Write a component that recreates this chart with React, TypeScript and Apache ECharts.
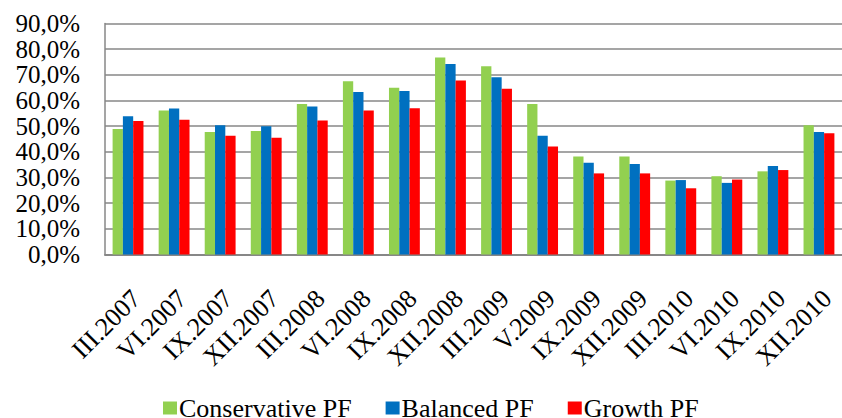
import React, { useEffect, useRef } from "react";
import * as echarts from "echarts";

const categories = [
  "III.2007", "VI.2007", "IX.2007", "XII.2007", "III.2008", "VI.2008", "IX.2008", "XII.2008",
  "III.2009", "V.2009", "IX.2009", "XII.2009", "III.2010", "VI.2010", "IX.2010", "XII.2010",
];
const conservative = [48.9, 56.1, 47.7, 48.1, 58.6, 67.5, 65.0, 76.8, 73.3, 58.6, 38.2, 38.2, 28.8, 30.5, 32.4, 50.4];
const balanced = [53.9, 56.9, 50.4, 50.0, 57.7, 63.3, 63.7, 74.2, 69.1, 46.3, 35.7, 35.3, 29.0, 27.9, 34.5, 47.7];
const growth = [52.0, 52.5, 46.3, 45.5, 52.2, 56.1, 57.0, 67.8, 64.6, 42.1, 31.6, 31.6, 25.8, 29.2, 32.9, 47.2];
const seriesNames = ["Conservative PF", "Balanced PF", "Growth PF"];
const colors = ["#92D050", "#0070C0", "#FF0000"];

const FONT = "Liberation Serif";

export default function App() {
  const ref = useRef<HTMLDivElement>(null);
  useEffect(() => {
    if (!ref.current) return;
    const chart = echarts.init(ref.current, undefined, { renderer: "svg" });
    const data = [conservative, balanced, growth];
    chart.setOption({
      animation: false,
      backgroundColor: "#ffffff",
      grid: { left: 105, right: -7, top: 23.5, bottom: 163.5, containLabel: false },
      legend: {
        left: 163,
        top: 395,
        padding: 0,
        itemWidth: 14,
        itemHeight: 13,
        itemGap: 34,
        icon: "rect",
        data: seriesNames,
        textStyle: { fontFamily: FONT, fontSize: 26, color: "#000", padding: [0, 0, 0, -3] },
      },
      xAxis: {
        type: "category",
        data: categories,
        axisLine: { show: true, lineStyle: { color: "#878787", width: 2 } },
        axisTick: { show: false },
        axisLabel: {
          interval: 0,
          rotate: 45,
          margin: 48,
          padding: [0, -11.5, 0, 0],
          fontFamily: FONT,
          fontSize: 26,
          color: "#000",
        },
      },
      yAxis: {
        type: "value",
        min: 0,
        max: 90,
        interval: 10,
        axisLine: { show: true, lineStyle: { color: "#878787", width: 1.5 } },
        axisTick: { show: false },
        splitLine: { show: true, showMinLine: true, showMaxLine: true, lineStyle: { color: "#878787", width: 1.5 } },
        axisLabel: {
          margin: 25,
          showMinLabel: true,
          showMaxLabel: true,
          hideOverlap: false,
          fontFamily: FONT,
          fontSize: 25,
          lineHeight: 16,
          color: "#000",
          formatter: (v: number) => v.toFixed(1).replace(".", ",") + "%",
        },
      },
      series: seriesNames.map((name, i) => ({
        name,
        type: "bar",
        data: data[i],
        barGap: "0%",
        barCategoryGap: "33%",
        itemStyle: { color: colors[i] },
      })),
    });
    return () => chart.dispose();
  }, []);
  return (
    <div
      ref={ref}
      style={{ position: "absolute", left: 0, top: 0, width: 842, height: 418 }}
    />
  );
}
